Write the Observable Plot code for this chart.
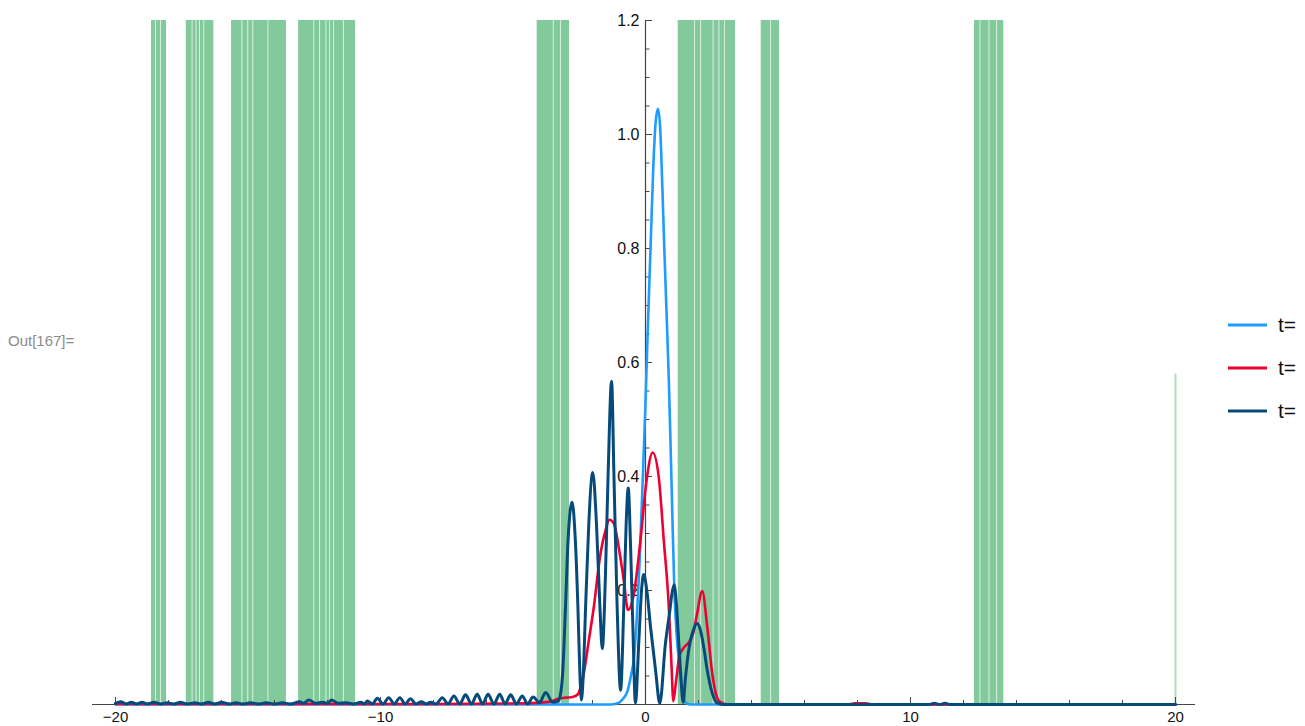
<!DOCTYPE html>
<html>
<head>
<meta charset="utf-8">
<script src="https://cdn.jsdelivr.net/npm/d3@7"></script>
<script src="https://cdn.jsdelivr.net/npm/@observablehq/plot@0.6"></script>
<style>
  body { margin: 0; background: #fff; font-family: "Liberation Sans", Arial, sans-serif; }
  #wrap { position: relative; width: 1305px; height: 726px; overflow: hidden; }
  #chart { position: absolute; left: 0; top: 0; }
  #out { position: absolute; left: 8px; top: 332px; font-size: 15px; color: #8c8c8c; }
  #legend { position: absolute; left: 1220px; top: 0; }
</style>
</head>
<body>
<div id="wrap">
  <div id="chart"></div>
  <div id="out">Out[167]=</div>
  <svg id="legend" width="85" height="726"></svg>
</div>
<script>
// Probability density |ψ(x,t)|² at three times, over the green indicator regions.

const seriesLabels = ["t=", "t=", "t="];
const seriesColors = ["#1e9cff", "#ee0033", "#064a7a"];
const seriesWidths = [2.6, 2.6, 3];

// [x, density]
const bluePts = [
  [-20, 0], [-1.3, 0], [-1.0, 0.003], [-0.85, 0.01], [-0.69, 0.022], [-0.55, 0.05],
  [-0.44, 0.08], [-0.33, 0.15], [-0.22, 0.253], [-0.1, 0.4], [0.0, 0.53], [0.08, 0.65],
  [0.19, 0.8], [0.3, 0.95], [0.38, 1.02], [0.47, 1.045], [0.55, 1.015], [0.62, 0.93],
  [0.71, 0.8], [0.8, 0.68], [0.88, 0.57], [0.96, 0.43], [1.02, 0.32], [1.09, 0.2],
  [1.18, 0.12], [1.26, 0.077], [1.35, 0.035], [1.45, 0.01], [1.55, 0.002], [1.7, 0], [20, 0]
];

const redPts = [
  [-20, 0.001], [-8, 0.001], [-4.5, 0.002], [-3.6, 0.005], [-3.3, 0.01], [-3.0, 0.012],
  [-2.75, 0.013], [-2.55, 0.018], [-2.45, 0.03], [-2.33, 0.054], [-2.14, 0.112],
  [-1.95, 0.171], [-1.72, 0.258], [-1.51, 0.305], [-1.36, 0.324], [-1.19, 0.317],
  [-1.01, 0.276], [-0.82, 0.218], [-0.66, 0.166], [-0.44, 0.194], [-0.19, 0.288],
  [0.04, 0.393], [0.27, 0.442], [0.5, 0.399], [0.69, 0.288], [0.88, 0.171], [0.98, 0.07],
  [1.05, 0.006], [1.15, 0.04], [1.28, 0.085], [1.45, 0.1], [1.62, 0.108], [1.8, 0.125],
  [1.95, 0.16], [2.14, 0.199], [2.33, 0.136], [2.52, 0.054], [2.65, 0.02], [2.8, 0.005],
  [3.1, 0], [7.6, 0], [7.9, 0.002], [8.3, 0.002], [8.6, 0], [20, 0]
];

const darkPts = [
  [-20, 0.002], [-19.8, 0.005], [-19.6, 0.001], [-19.4, 0.004], [-19.2, 0.001], [-19.0, 0.004],
  [-18.8, 0.001], [-18.55, 0.004], [-18.3, 0.001], [-18.05, 0.003], [-17.8, 0.001],
  [-17.55, 0.004], [-17.3, 0.001], [-17.0, 0.003], [-16.75, 0.001], [-16.5, 0.004],
  [-16.25, 0.001], [-16.0, 0.004], [-15.7, 0.001], [-15.45, 0.003], [-15.2, 0.001],
  [-14.9, 0.003], [-14.6, 0.001], [-14.3, 0.003], [-14.0, 0.001], [-13.7, 0.003],
  [-13.4, 0.001], [-13.05, 0.005], [-12.9, 0.002], [-12.7, 0.008], [-12.45, 0.002],
  [-12.2, 0.004], [-12.0, 0.002], [-11.85, 0.008], [-11.6, 0.002], [-11.3, 0.003],
  [-11.0, 0.001], [-10.75, 0.004], [-10.6, 0.001], [-10.5, 0.006], [-10.3, 0.001],
  [-10.12, 0.011], [-9.9, 0.001], [-9.69, 0.012], [-9.48, 0.001], [-9.27, 0.012],
  [-9.07, 0.001], [-8.87, 0.01], [-8.66, 0.001], [-8.45, 0.005], [-8.28, 0.001],
  [-8.11, 0.004], [-7.9, 0.001], [-7.67, 0.012], [-7.45, 0.001], [-7.23, 0.015],
  [-7.01, 0.001], [-6.79, 0.017], [-6.57, 0.001], [-6.35, 0.018], [-6.15, 0.001],
  [-5.94, 0.018], [-5.72, 0.001], [-5.5, 0.018], [-5.3, 0.001], [-5.09, 0.017],
  [-4.87, 0.001], [-4.65, 0.015], [-4.45, 0.001], [-4.24, 0.013], [-4.0, 0.003],
  [-3.77, 0.021], [-3.5, 0.004], [-3.3, 0.006],
  [-3.2, 0.02], [-3.12, 0.06], [-3.02, 0.17], [-2.92, 0.29], [-2.77, 0.355], [-2.65, 0.29],
  [-2.55, 0.17], [-2.48, 0.06], [-2.42, 0.008],
  [-2.35, 0.05], [-2.26, 0.171], [-2.14, 0.317], [-1.99, 0.407], [-1.85, 0.317],
  [-1.72, 0.171], [-1.63, 0.098],
  [-1.51, 0.229], [-1.41, 0.405], [-1.28, 0.567], [-1.19, 0.4], [-1.07, 0.171], [-0.94, 0.025],
  [-0.82, 0.171], [-0.73, 0.317], [-0.65, 0.38], [-0.57, 0.288], [-0.48, 0.142], [-0.38, 0.003],
  [-0.25, 0.112], [-0.15, 0.2], [-0.07, 0.228], [0.05, 0.2], [0.19, 0.136], [0.38, 0.06],
  [0.54, 0.002],
  [0.75, 0.106], [0.92, 0.165], [1.0, 0.195], [1.08, 0.21], [1.16, 0.18], [1.22, 0.136],
  [1.32, 0.06], [1.42, 0.004],
  [1.51, 0.048], [1.63, 0.095], [1.8, 0.13], [1.96, 0.142], [2.1, 0.125], [2.2, 0.1],
  [2.33, 0.06], [2.52, 0.02], [2.7, 0.003], [3.0, 0], [10.7, 0], [10.9, 0.002], [11.1, 0],
  [11.3, 0.002], [11.5, 0], [20, 0]
];

// Regions where the indicator is on: [start, end]
const bands = [
  [-18.64, -18.075], [-17.33, -16.29], [-15.62, -13.55], [-13.09, -10.94],
  [-4.087, -2.868], [1.234, 3.396], [4.366, 5.057], [12.415, 13.52]
];
// Narrow breaks inside the regions
const bandGaps = [
  -18.49, -18.30,
  -17.11, -16.96, -16.83, -16.67,
  -15.23, -15.01, -14.82, -14.25,
  -12.52, -12.30, -12.06, -11.92, -11.77, -11.40,
  -3.48, -3.21,
  1.85, 2.08, 2.55, 2.77, 2.98,
  4.72,
  12.62, 12.96, 13.25
];
// Isolated spike of the indicator at the right end
const spikes = [{x: 20, y: 0.58}];

const xTickValues = [-20, -10, 0, 10, 20];
const xTickLabels = ["\u221220", "\u221210", "0", "10", "20"];
const xMinorTicks = [-18, -16, -14, -12, -8, -6, -4, -2, 2, 4, 6, 8, 12, 14, 16, 18];
const yTickValues = [0.2, 0.4, 0.6, 0.8, 1.0, 1.2];
const yTickLabels = ["0.2", "0.4", "0.6", "0.8", "1.0", "1.2"];
const yMinorTicks = [0.05, 0.1, 0.15, 0.25, 0.3, 0.35, 0.45, 0.5, 0.55, 0.65, 0.7, 0.75,
                     0.85, 0.9, 0.95, 1.05, 1.1, 1.15];

const xMin = -20.868, xMax = 20.755, yMax = 1.2;
const green = "#82c99b";
const axisColor = "#444";
const font = "'Liberation Sans', Arial, sans-serif";

const seriesPts = [bluePts, redPts, darkPts];

const chart = Plot.plot({
  width: 1305,
  height: 726,
  marginLeft: 92,
  marginRight: 110,
  marginTop: 20,
  marginBottom: 22,
  x: {domain: [xMin, xMax], axis: null},
  y: {domain: [0, yMax], axis: null},
  style: {fontFamily: font, background: "transparent", overflow: "visible"},
  marks: [
    Plot.rect(bands, {x1: d => d[0], x2: d => d[1], y1: 0, y2: yMax, fill: green}),
    Plot.ruleX(bandGaps, {x: d => d, y1: 0, y2: yMax, stroke: "white", strokeOpacity: 0.7, strokeWidth: 1}),
    Plot.ruleX(spikes, {x: "x", y1: 0, y2: "y", stroke: green, strokeOpacity: 0.65, strokeWidth: 2}),

    // axes crossing at the origin
    Plot.ruleY([0], {x1: xMin, x2: xMax, stroke: axisColor, strokeWidth: 1.2}),
    Plot.ruleX([0], {y1: 0, y2: yMax, stroke: axisColor, strokeWidth: 1.2}),
    Plot.ruleX(xTickValues, {x: d => d, y1: 0, y2: 0, insetTop: -7, stroke: axisColor}),
    Plot.ruleX(xMinorTicks, {x: d => d, y1: 0, y2: 0, insetTop: -4, stroke: axisColor}),
    Plot.ruleY(yTickValues, {y: d => d, x1: 0, x2: 0, insetRight: -7, stroke: axisColor}),
    Plot.ruleY(yMinorTicks, {y: d => d, x1: 0, x2: 0, insetRight: -4.5, stroke: axisColor}),
    Plot.text(xTickValues, {x: d => d, y: 0, text: (d, i) => xTickLabels[i], dy: 13, fontSize: 15, fill: "#111"}),
    Plot.text(yTickValues, {x: 0, y: d => d, text: (d, i) => yTickLabels[i], dx: -6, textAnchor: "end", fontSize: 16, fill: "#111"}),

    // density curves
    ...seriesPts.map((pts, k) =>
      Plot.line(pts, {x: d => d[0], y: d => d[1], stroke: seriesColors[k], strokeWidth: seriesWidths[k], curve: "monotone-x"})
    )
  ]
});
document.getElementById("chart").appendChild(chart);

// legend to the right of the plot
const legend = d3.select("#legend");
const rowY = [325, 368, 411];
seriesLabels.forEach((label, k) => {
  legend.append("line")
    .attr("x1", 8).attr("x2", 47)
    .attr("y1", rowY[k]).attr("y2", rowY[k])
    .attr("stroke", seriesColors[k]).attr("stroke-width", 3);
  legend.append("text")
    .attr("x", 58).attr("y", rowY[k] + 7)
    .attr("font-family", font).attr("font-size", 21).attr("fill", "#111")
    .text(label);
});
</script>
</body>
</html>
